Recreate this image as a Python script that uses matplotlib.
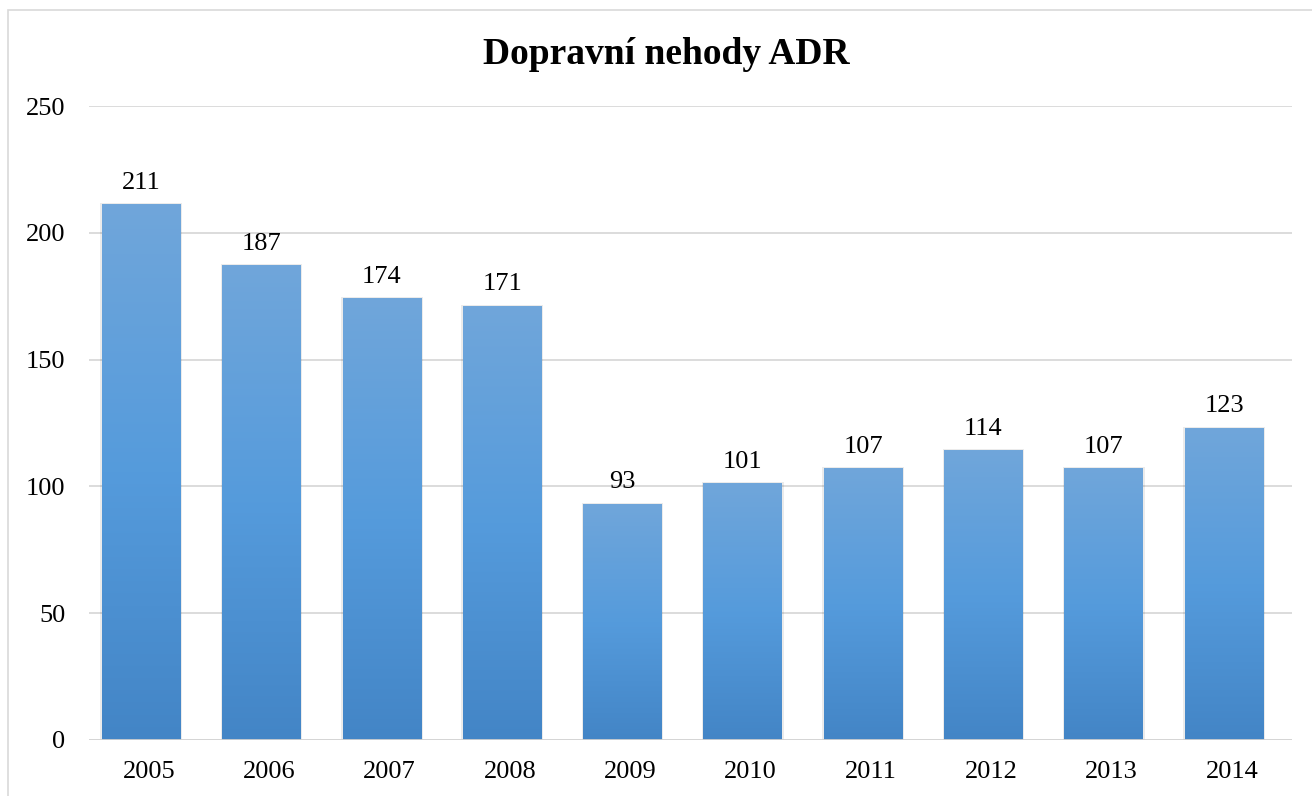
import numpy as np
import matplotlib.pyplot as plt
from matplotlib.colors import LinearSegmentedColormap
from matplotlib.patches import Rectangle

years = ["2005", "2006", "2007", "2008", "2009", "2010", "2011", "2012", "2013", "2014"]
accidents = [211, 187, 174, 171, 93, 101, 107, 114, 107, 123]
y_ticks = [0, 50, 100, 150, 200, 250]

plt.rcParams['font.family'] = ['Liberation Serif', 'DejaVu Serif']

fig = plt.figure(figsize=(13.12, 7.96), dpi=100)
ax = fig.add_axes([89 / 1312, 56 / 796, 1203 / 1312, 634 / 796])

# outer chart border
fig.patches.append(Rectangle((8 / 1312, -0.05), 1.1, 1 - 10 / 796 + 0.05,
                             transform=fig.transFigure, fill=False,
                             edgecolor='#D9D9D9', linewidth=1.2, zorder=0))

grad = LinearSegmentedColormap.from_list('bar', ['#4385C6', '#559BDC', '#70A6DA'])
x = np.arange(len(years))
shift = -0.065
width = 0.655

bars = ax.bar(x + shift, accidents, width=width, color='none', zorder=3)
for b, v in zip(bars, accidents):
    x0, x1 = b.get_x(), b.get_x() + b.get_width()
    # soft shadow
    ax.add_patch(Rectangle((x0 - 0.012, 0), x1 - x0 + 0.024, v + 0.6,
                           facecolor='#000000', alpha=0.08, edgecolor='none', zorder=2))
    ax.imshow(np.linspace(0, 1, 256).reshape(-1, 1), cmap=grad, origin='lower',
              extent=(x0, x1, 0, v), aspect='auto', zorder=3)
    ax.text(b.get_x() + b.get_width() / 2, v + 4.3, str(v), ha='center', va='bottom',
            fontsize=19, color='#000000')

ax.set_xlim(-0.5, len(years) - 0.5)
ax.set_ylim(0, 250)
ax.set_yticks(y_ticks)
ax.set_yticklabels([str(t) for t in y_ticks])
ax.set_xticks(x)
ax.set_xticklabels(years)
ax.tick_params(axis='both', length=0, labelsize=19, colors='#000000')
ax.tick_params(axis='y', pad=17)
ax.tick_params(axis='x', pad=15)

for t in y_ticks[1:]:
    ax.axhline(t, color='#D9D9D9', linewidth=1.3, zorder=1)
ax.axhline(0, color='#D0D0D0', linewidth=2, zorder=4)

for s in ax.spines.values():
    s.set_visible(False)

fig.text(666 / 1312, 1 - 55 / 796, "Dopravní nehody ADR", ha='center', va='center',
         fontsize=27, fontweight='bold')

fig.savefig("out.png", dpi=100)
